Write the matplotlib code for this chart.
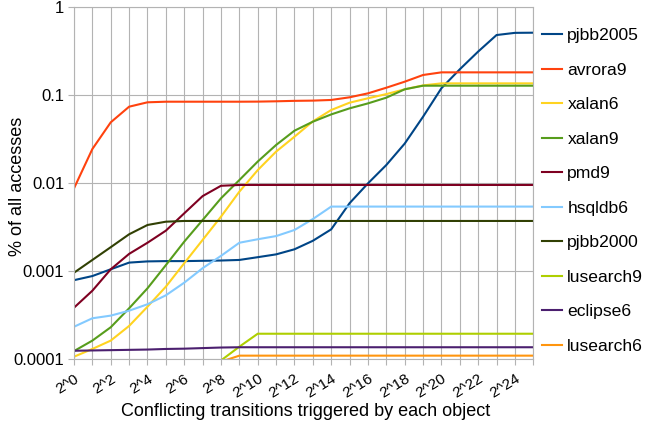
import numpy as np
import matplotlib
matplotlib.use("Agg")
import matplotlib.pyplot as plt
from matplotlib.ticker import FixedLocator, NullLocator

plt.rcParams['font.family'] = ['Liberation Sans', 'DejaVu Sans']

nan = np.nan

# categories 2^0 .. 2^25
exps = list(range(26))
tick_labels = ['2^%d' % e if e % 2 == 0 else '' for e in exps]

pjbb2005 = [0.00079, 0.00088, 0.00105, 0.00125, 0.00129, 0.0013, 0.0013, 0.00131, 0.00132,
            0.00134, 0.00144, 0.00155, 0.00177, 0.00221, 0.00298, 0.0059, 0.0099, 0.016,
            0.028, 0.0565, 0.119, 0.195, 0.31, 0.477, 0.505, 0.507]
avrora9 = [0.0087, 0.0243, 0.0488, 0.0734, 0.0823, 0.0836, 0.0836, 0.0836, 0.0836, 0.0836,
           0.0838, 0.0845, 0.0855, 0.086, 0.0875, 0.0938, 0.104, 0.1205, 0.141, 0.168,
           0.18, 0.18, 0.18, 0.18, 0.18, 0.18]
xalan6 = [0.000107, 0.000131, 0.000163, 0.000239, 0.000395, 0.000667, 0.00123, 0.00226,
          0.00415, 0.00797, 0.014, 0.0227, 0.0335, 0.05, 0.0673, 0.0815, 0.0914, 0.102,
          0.1156, 0.128, 0.135, 0.135, 0.135, 0.135, 0.135, 0.135]
xalan9 = [0.000124, 0.000163, 0.000231, 0.000379, 0.000639, 0.00117, 0.00216, 0.0038,
          0.0067, 0.0108, 0.0175, 0.027, 0.0392, 0.0496, 0.06, 0.0703, 0.08, 0.0929,
          0.1156, 0.127, 0.127, 0.127, 0.127, 0.127, 0.127, 0.127]
pmd9 = [0.000385, 0.0006, 0.00105, 0.00157, 0.0021, 0.00288, 0.00453, 0.0071, 0.0093,
        0.0095, 0.0095, 0.0095, 0.0095, 0.0095, 0.0095, 0.0095, 0.0095, 0.0095, 0.0095,
        0.0095, 0.0095, 0.0095, 0.0095, 0.0095, 0.0095, 0.0095]
hsqldb6 = [0.000234, 0.000292, 0.000313, 0.000356, 0.000421, 0.000532, 0.00074, 0.00108,
           0.00149, 0.0021, 0.0023, 0.0025, 0.00293, 0.0039, 0.0054, 0.0054, 0.0054,
           0.0054, 0.0054, 0.0054, 0.0054, 0.0054, 0.0054, 0.0054, 0.0054, 0.0054]
pjbb2000 = [0.00096, 0.00134, 0.00187, 0.00262, 0.00334, 0.00364, 0.00371, 0.00371,
            0.00371, 0.00371, 0.00371, 0.00371, 0.00371, 0.00371, 0.00371, 0.00371,
            0.00371, 0.00371, 0.00371, 0.00371, 0.00371, 0.00371, 0.00371, 0.00371,
            0.00371, 0.00371]
lusearch9 = [nan, nan, nan, nan, nan, nan, nan, 0.00005, 0.000097, 0.000139, 0.000195,
             0.000195, 0.000195, 0.000195, 0.000195, 0.000195, 0.000195, 0.000195,
             0.000195, 0.000195, 0.000195, 0.000195, 0.000195, 0.000195, 0.000195, 0.000195]
eclipse6 = [0.000125, 0.000126, 0.000127, 0.000128, 0.000129, 0.000131, 0.000132, 0.000134,
            0.000136, 0.000137, 0.000137, 0.000137, 0.000137, 0.000137, 0.000137, 0.000137,
            0.000137, 0.000137, 0.000137, 0.000137, 0.000137, 0.000137, 0.000137, 0.000137,
            0.000137, 0.000137]
lusearch6 = [nan, nan, nan, nan, nan, nan, nan, nan, 0.000094, 0.00011, 0.00011, 0.00011,
             0.00011, 0.00011, 0.00011, 0.00011, 0.00011, 0.00011, 0.00011, 0.00011,
             0.00011, 0.00011, 0.00011, 0.00011, 0.00011, 0.00011]

series = [
    ('pjbb2005', pjbb2005, '#004586'),
    ('avrora9', avrora9, '#ff420e'),
    ('xalan6', xalan6, '#ffd320'),
    ('xalan9', xalan9, '#579d1c'),
    ('pmd9', pmd9, '#7e0021'),
    ('hsqldb6', hsqldb6, '#83caff'),
    ('pjbb2000', pjbb2000, '#314004'),
    ('lusearch9', lusearch9, '#aecf00'),
    ('eclipse6', eclipse6, '#4b1f6f'),
    ('lusearch6', lusearch6, '#ff950e'),
]

fig = plt.figure(figsize=(6.47, 4.23), dpi=100)
ax = fig.add_axes([74 / 647, 1 - 359.3 / 423, 459.3 / 647, 352.6 / 423])

x = np.arange(len(exps))
for name, vals, col in series:
    ax.plot(x, vals, color=col, lw=1.5, label=name, solid_joinstyle='miter')

ax.set_yscale('log')
ax.set_ylim(1e-4, 1)
ax.set_xlim(0, len(exps) - 1)
ax.yaxis.set_major_locator(FixedLocator([1e-4, 1e-3, 1e-2, 1e-1, 1]))
ax.yaxis.set_minor_locator(NullLocator())
ax.set_yticklabels(['0.0001', '0.001', '0.01', '0.1', '1'], fontsize=12)
ax.set_xticks(x)
ax.set_xticklabels(tick_labels, rotation=32, ha='right', va='top',
                   rotation_mode='anchor', fontsize=11)
ax.tick_params(axis='both', length=4, color='#b3b3b3', pad=3)
ax.tick_params(axis='x', pad=5)

ax.grid(True, color='#b3b3b3', lw=0.8)
ax.set_axisbelow(True)
for s in ax.spines.values():
    s.set_color('#b3b3b3')
    s.set_linewidth(0.8)

ax.set_xlabel('Conflicting transitions triggered by each object', fontsize=13)
ax.set_ylabel('% of all accesses', fontsize=13)
ax.xaxis.set_label_coords(0.505, -0.123)
ax.yaxis.set_label_coords(-0.104, 0.49)

fig.legend(loc='upper left', bbox_to_anchor=(542 / 647, 1 - 28 / 423), frameon=False,
           fontsize=12.6, handlelength=1.15, handletextpad=0.3, labelspacing=1.1,
           borderaxespad=0, borderpad=0)

fig.savefig('out.png', dpi=100)
